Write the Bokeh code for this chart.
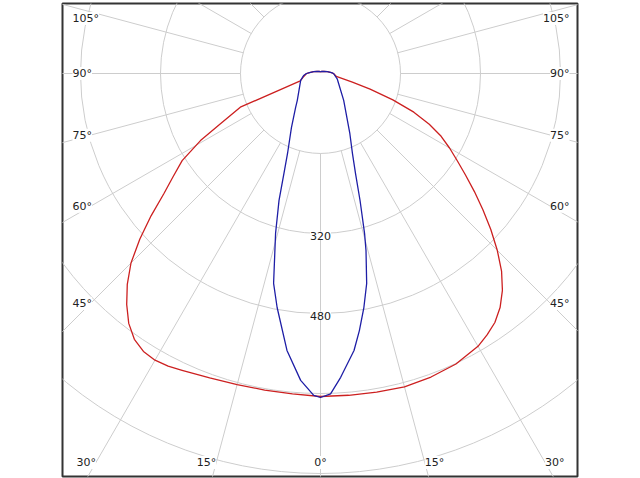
import numpy as np
from bokeh.plotting import figure
from bokeh.models import Label, Range1d
from bokeh.embed import file_html
from bokeh.resources import INLINE

# ---- data: gamma angle (deg from nadir) and intensity (cd/klm) ----
# red curve, right half (C0) and left half (C180)
red_c0_angles = [0, 5, 10, 15, 20, 25, 30, 32.5, 35, 37.5, 40, 42.5, 45, 47.5, 50, 52.5, 55,
                 57.5, 60, 62.5, 65, 67.5, 70, 72.5, 75, 80, 90, 95, 105, 120, 150, 180]
red_c0_values = [646, 646, 647, 649, 646, 641, 630, 620, 608, 590, 566, 536, 500, 462, 424, 388, 354,
                 324, 298, 272, 240, 202, 154, 104, 66, 32, 26, 22, 14, 8, 5, 3]
red_c180_angles = [0, 5, 10, 15, 20, 25, 27.5, 30, 32.5, 35, 37.5, 40, 42.5, 45, 47.5, 50, 52.5,
                   55, 57.8, 60.8, 63.3, 67.2, 70, 80, 90, 95, 105, 120, 150, 180]
red_c180_values = [646, 643, 643, 644, 648, 655, 660, 662, 659, 649, 630, 603, 572, 536, 490, 442, 395,
                   360, 327, 275, 224, 174, 43, 34, 28, 22, 14, 8, 5, 3]

# blue curve, right half (C90) and left half (C270)
blue_c90_angles = [0, 1.8, 3.8, 6.9, 8.6, 10.5, 12.4, 14.4, 15.4, 17.3, 19.3, 21.8, 26.0, 28.8,
                   40.8, 72.4, 90, 95, 105, 120, 150, 180]
blue_c90_values = [648, 641, 609, 558, 520, 476, 430, 366, 332, 266, 212, 172, 134, 114,
                   71, 35, 26, 22, 14, 8, 5, 3]
blue_c270_angles = [0, 1.2, 3.7, 6.9, 10.5, 12.6, 15.7, 18.1, 20.1, 22.4, 28.2, 36.3, 40.8,
                    70.7, 83.3, 90, 95, 105, 120, 150, 180]
blue_c270_values = [648, 644, 615, 558, 476, 430, 332, 267, 213, 173, 123, 84, 71,
                    42, 34, 28, 22, 14, 8, 5, 3]

ring_values = [160, 320, 480, 640, 800, 960]
ring_label_values = [320, 480]
spoke_angles = list(range(0, 360, 15))
side_label_angles = [45, 60, 75, 90, 105]
bottom_label_angles = [0, 15, 30]

RED = "#cc2020"
BLUE = "#1e1ea6"
GRID = "#cdcdcd"
TXT = "#222222"
FONT = "DejaVu Sans"

X0, X1 = -516, 514
Y0, Y1 = -806, 140

p = figure(width=640, height=478, output_backend="svg", toolbar_location=None,
           x_range=Range1d(X0, X1), y_range=Range1d(Y0, Y1),
           x_axis_type=None, y_axis_type=None,
           min_border_left=62, min_border_right=63, min_border_top=3, min_border_bottom=2)
p.grid.visible = False
p.outline_line_color = "#333333"
p.outline_line_width = 2
p.background_fill_color = "white"
p.border_fill_color = "white"

# rings
p.circle(x=[0] * len(ring_values), y=[0] * len(ring_values), radius=ring_values,
         fill_color=None, line_color=GRID, line_width=1)

# spokes, from the inner ring outwards
a = np.radians(spoke_angles)
r_in = ring_values[0]
r_out = 3000
p.segment(x0=r_in * np.sin(a), y0=-r_in * np.cos(a), x1=r_out * np.sin(a), y1=-r_out * np.cos(a),
          line_color=GRID, line_width=1)


def polar_path(ang_l, val_l, ang_r, val_r):
    al = np.radians(np.array(ang_l, dtype=float))
    ar = np.radians(np.array(ang_r, dtype=float))
    L = np.array(val_l, dtype=float)
    R = np.array(val_r, dtype=float)
    xl, yl = -L * np.sin(al), -L * np.cos(al)
    xr, yr = R * np.sin(ar), -R * np.cos(ar)
    xs = np.concatenate([xl[::-1], xr[1:]])
    ys = np.concatenate([yl[::-1], yr[1:]])
    return xs, ys


xs, ys = polar_path(red_c180_angles, red_c180_values, red_c0_angles, red_c0_values)
p.line(xs, ys, line_color=RED, line_width=1.3, line_join="round")
xs, ys = polar_path(blue_c270_angles, blue_c270_values, blue_c90_angles, blue_c90_values)
p.line(xs, ys, line_color=BLUE, line_width=1.3, line_join="round")


def add_label(x, y, text, align, yoff=0):
    p.add_layout(Label(x=x, y=y, y_offset=yoff, text=text, text_align=align, text_baseline="middle",
                       text_font=FONT, text_font_size="11px", text_color=TXT,
                       background_fill_color="white"))


# ring value labels on the nadir axis
for v in ring_label_values:
    add_label(0, -v, str(v), "center", yoff=-2)

# side angle labels
X_side = 460
for ang in side_label_angles:
    t = np.radians(ang)
    y = -X_side * np.cos(t) / np.sin(t)
    y = min(y, Y1 - 30)
    add_label(X0 + 20, y, f"{ang}°", "left")
    add_label(X1 - 16, y, f"{ang}°", "right")

# bottom angle labels
yb = Y0 + 28
for ang in bottom_label_angles:
    x = abs(yb) * np.tan(np.radians(ang))
    if ang == 0:
        add_label(0, yb, f"{ang}°", "center")
    else:
        add_label(-x, yb, f"{ang}°", "right")
        add_label(x, yb, f"{ang}°", "left")

open("out.html", "w").write(file_html(p, INLINE))
